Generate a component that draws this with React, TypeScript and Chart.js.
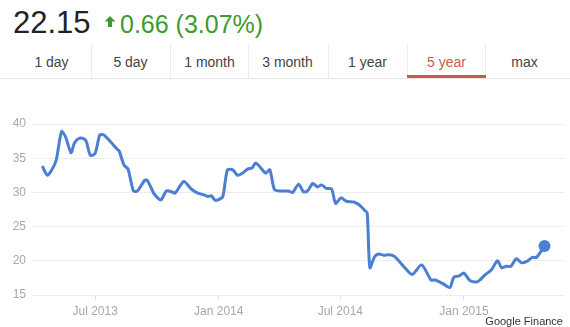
import React, { useEffect, useRef } from "react";
import { Chart, registerables } from "chart.js";

Chart.register(...registerables);

// Days counted from 1 Jul 2013
const days = [
  -78, -71, -64, -58, -50, -44, -36, -31, -24, -16, -13, -7, 0, 7, 13, 23, 33, 36, 43, 49,
  57, 63, 74, 78, 87, 91, 98, 106, 114, 119, 132, 143, 153, 163, 168, 173, 178, 183, 190, 197,
  205, 212, 219, 227, 234, 239, 249, 254, 260, 267, 276, 288, 294, 303, 310, 316, 324, 331, 337, 344,
  352, 358, 366, 374, 385, 393, 401, 405, 409, 416, 422, 430, 438, 446, 460, 472, 486, 500, 506, 517,
  528, 534, 542, 549, 558, 568, 573, 580, 590, 599, 605, 612, 619, 627, 635, 644, 651, 657, 669,
];
const prices = [
  33.7, 32.5, 33.4, 34.7, 38.9, 38.1, 35.8, 37.2, 37.9, 37.8, 37.4, 35.4, 35.7, 38.4, 38.4, 37.4, 36.3, 36.0, 34.0, 33.4,
  30.2, 30.2, 31.8, 31.7, 29.9, 29.4, 28.9, 30.2, 30.1, 29.9, 31.6, 30.5, 29.9, 29.6, 29.4, 29.5, 28.9, 28.9, 29.4, 33.3,
  33.3, 32.5, 32.8, 33.4, 33.6, 34.3, 33.3, 32.8, 33.3, 30.4, 30.2, 30.2, 30.0, 31.2, 30.1, 30.2, 31.3, 30.8, 31.1, 30.6,
  30.5, 28.4, 29.2, 28.7, 28.6, 28.2, 27.4, 27.0, 19.0, 20.6, 21.0, 20.8, 20.9, 20.6, 19.1, 18.0, 19.4, 17.2, 17.2, 16.7,
  16.1, 17.6, 17.8, 18.2, 17.1, 16.9, 17.2, 17.9, 18.7, 20.0, 19.0, 19.2, 19.2, 20.3, 19.7, 20.0, 20.5, 20.5, 22.15,
];
const xTickDays = [0, 184, 365, 549];
const xTickLabels = ["Jul 2013", "Jan 2014", "Jul 2014", "Jan 2015"];
const yTicks = [15, 20, 25, 30, 35, 40];
const tabLabels = ["1 day", "5 day", "1 month", "3 month", "1 year", "5 year", "max"];
const tabLefts = [12, 91, 170, 248, 328, 407, 485];
const activeTab = "5 year";
const lastPrice = "22.15";
const change = "0.66 (3.07%)";

const FONT = "'Liberation Sans', Arial, sans-serif";
const BLUE = "#4a7fd3";

export default function App() {
  const ref = useRef<HTMLCanvasElement | null>(null);

  useEffect(() => {
    document.body.style.margin = "0";
    const canvas = ref.current;
    if (!canvas) return;
    const n = prices.length;
    const chart = new Chart(canvas, {
      type: "line",
      data: {
        datasets: [
          {
            data: days.map((d, i) => ({ x: d, y: prices[i] })),
            borderColor: BLUE,
            backgroundColor: BLUE,
            borderWidth: 3,
            tension: 0.25,
            borderJoinStyle: "round",
            borderCapStyle: "round",
            pointRadius: (ctx: any) => (ctx.dataIndex === n - 1 ? 6 : 0),
            pointHoverRadius: 0,
            pointBorderWidth: 0,
            clip: false as any,
          },
        ],
      },
      options: {
        animation: false,
        responsive: false,
        maintainAspectRatio: false,
        layout: { padding: { top: 29, left: 0, right: 0, bottom: 0 } },
        plugins: { legend: { display: false }, tooltip: { enabled: false } },
        scales: {
          x: {
            type: "linear",
            min: -94,
            max: 698,
            afterBuildTicks: (scale: any) => {
              scale.ticks = xTickDays.map((v) => ({ value: v }));
            },
            afterFit: (scale: any) => {
              scale.height = 32;
            },
            ticks: {
              autoSkip: false,
              maxRotation: 0,
              padding: 4,
              color: "#a8a8a8",
              font: { family: FONT, size: 12 },
              callback: (v: any) => {
                const i = xTickDays.indexOf(Number(v));
                return i >= 0 ? xTickLabels[i] : "";
              },
            },
            grid: {
              drawOnChartArea: false,
              drawTicks: true,
              tickLength: 5,
              color: "#e2e2e2",
            },
            border: { display: false },
          },
          y: {
            min: 15,
            max: 40,
            afterBuildTicks: (scale: any) => {
              scale.ticks = yTicks.map((v) => ({ value: v }));
            },
            afterFit: (scale: any) => {
              scale.width = 32;
            },
            ticks: {
              padding: 6,
              color: "#a8a8a8",
              font: { family: FONT, size: 12 },
            },
            grid: { color: "#ededed", drawTicks: false },
            border: { display: false },
          },
        },
      },
    });
    return () => chart.destroy();
  }, []);

  return (
    <div
      style={{
        position: "fixed",
        left: 0,
        top: 0,
        width: 570,
        height: 327,
        background: "#fff",
        fontFamily: FONT,
        overflow: "hidden",
      }}
    >
      <div
        style={{
          position: "absolute",
          left: 13,
          top: 7,
          fontSize: 31,
          lineHeight: "31px",
          color: "#222",
          whiteSpace: "nowrap",
        }}
      >
        {lastPrice}
      </div>
      <svg
        style={{ position: "absolute", left: 104, top: 16 }}
        width={12}
        height={11}
        viewBox="0 0 12 11"
      >
        <polygon points="6,0 11.5,5.5 8,5.5 8,11 4,11 4,5.5 0.5,5.5" fill="#3d9a2e" />
      </svg>
      <div
        style={{
          position: "absolute",
          left: 120,
          top: 12,
          fontSize: 25,
          lineHeight: "25px",
          color: "#3d9a2e",
          whiteSpace: "nowrap",
        }}
      >
        {change}
      </div>
      {tabLabels.map((t, i) => (
        <div
          key={t}
          style={{
            position: "absolute",
            left: tabLefts[i],
            top: 55,
            width: 79,
            textAlign: "center",
            fontSize: 14,
            lineHeight: "14px",
            color: t === activeTab ? "#cc5a4e" : "#444",
            whiteSpace: "nowrap",
          }}
        >
          {t}
        </div>
      ))}
      {tabLefts.slice(1).map((x) => (
        <div
          key={"sep" + x}
          style={{
            position: "absolute",
            left: x,
            top: 44,
            width: 1,
            height: 34,
            background: "#ececec",
          }}
        />
      ))}
      <div
        style={{
          position: "absolute",
          left: 0,
          top: 78,
          width: 570,
          height: 1,
          background: "#e6e6e6",
        }}
      />
      {tabLabels.map((t, i) =>
        t === activeTab ? (
          <div
            key={"u" + t}
            style={{
              position: "absolute",
              left: tabLefts[i],
              top: 75,
              width: 79,
              height: 3,
              background: "#c9594b",
            }}
          />
        ) : null
      )}
      <canvas
        ref={ref}
        width={570}
        height={232}
        style={{ position: "absolute", left: 0, top: 95, width: 570, height: 232 }}
      />
      <div
        style={{
          position: "absolute",
          right: 7,
          top: 316,
          fontSize: 11,
          lineHeight: "11px",
          color: "#333",
          whiteSpace: "nowrap",
        }}
      >
        Google Finance
      </div>
    </div>
  );
}
